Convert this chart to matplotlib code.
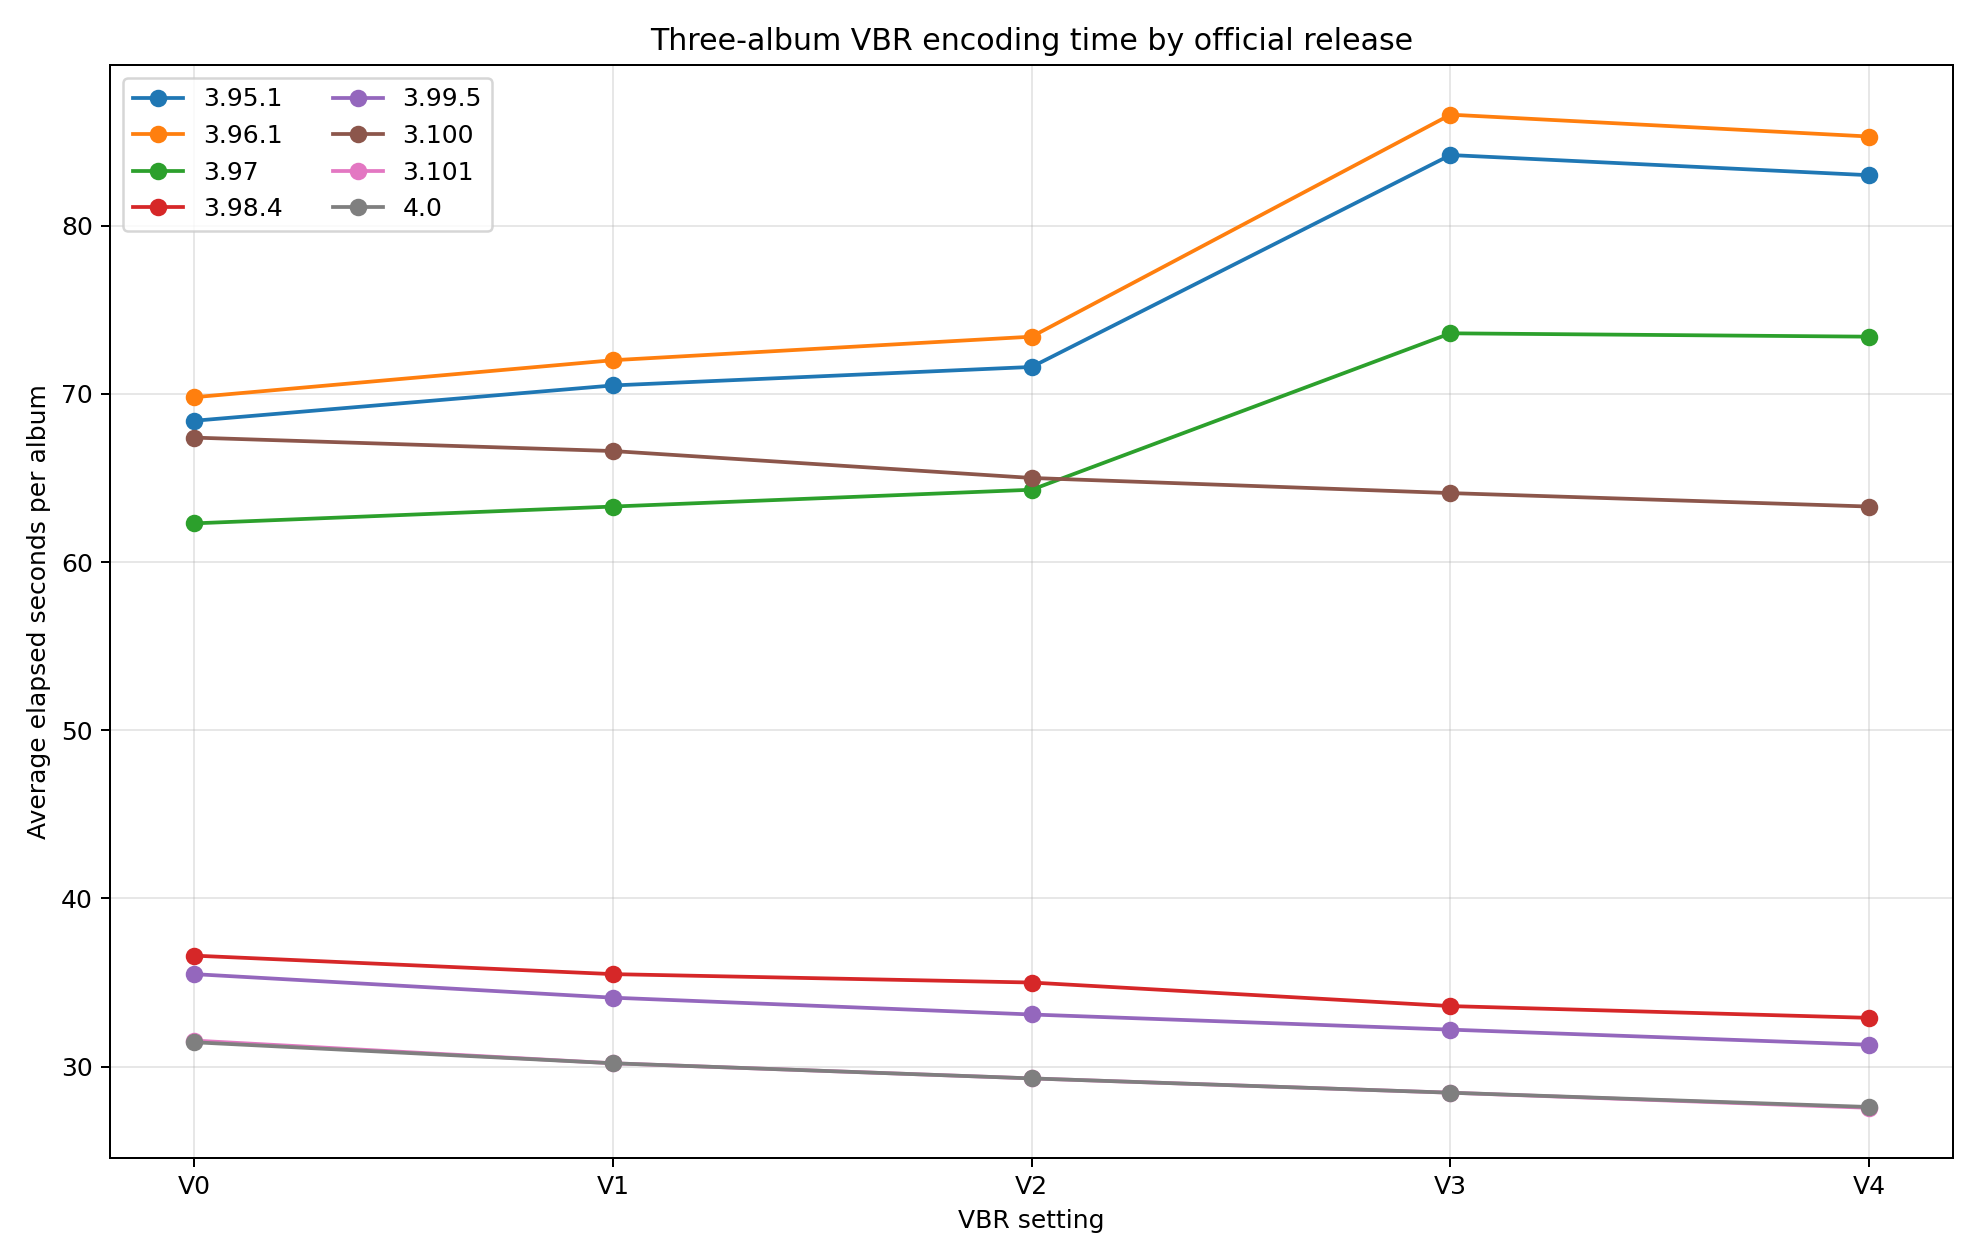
import matplotlib
matplotlib.use("Agg")
import matplotlib.pyplot as plt

# VBR settings on the x axis
settings = ["V0", "V1", "V2", "V3", "V4"]

# average elapsed seconds per album, one list per release
v3_95_1 = [68.4, 70.5, 71.6, 84.2, 83.0]
v3_96_1 = [69.8, 72.0, 73.4, 86.6, 85.3]
v3_97 = [62.3, 63.3, 64.3, 73.6, 73.4]
v3_98_4 = [36.6, 35.5, 35.0, 33.6, 32.9]
v3_99_5 = [35.5, 34.1, 33.1, 32.2, 31.3]
v3_100 = [67.4, 66.6, 65.0, 64.1, 63.3]
v3_101 = [31.55, 30.2, 29.3, 28.45, 27.55]
v4_0 = [31.45, 30.2, 29.3, 28.45, 27.6]

releases = ["3.95.1", "3.96.1", "3.97", "3.98.4", "3.99.5", "3.100", "3.101", "4.0"]
series = [v3_95_1, v3_96_1, v3_97, v3_98_4, v3_99_5, v3_100, v3_101, v4_0]

fig, ax = plt.subplots(figsize=(11, 7), dpi=180)
for name, values in zip(releases, series):
    ax.plot(settings, values, marker="o", label=name)

ax.set_title("Three-album VBR encoding time by official release")
ax.set_xlabel("VBR setting")
ax.set_ylabel("Average elapsed seconds per album")
ax.grid(True, alpha=0.3)
ax.legend(ncol=2, loc="upper left")

fig.tight_layout()
fig.savefig("out.png", dpi=180)
